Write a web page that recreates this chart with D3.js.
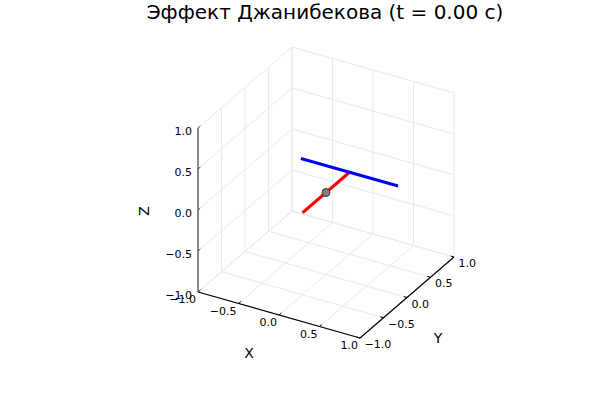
<!DOCTYPE html>
<html><head><meta charset="utf-8">
<script src="https://cdn.jsdelivr.net/npm/d3@7"></script>
<style>body{margin:0;background:#fff}svg{display:block;font-family:"DejaVu Sans",sans-serif}</style>
</head><body>
<svg id="c" width="600" height="400"></svg>
<script>
// ---- data ----
const title = "Эффект Джанибекова (t = 0.00 c)";
const xTicks = [-1, -0.5, 0, 0.5, 1];
const yTicks = [-1, -0.5, 0, 0.5, 1];
const zTicks = [-1, -0.5, 0, 0.5, 1];
const tickLabels = ["\u22121.0", "\u22120.5", "0.0", "0.5", "1.0"];
const redAxis = [[0, -0.5, 0], [0, 0.5, 0]];     // handle
const blueBar = [[-0.6, 0.5, 0], [0.6, 0.5, 0]];  // crossbar
const centre = [[0, 0, 0]];

// ---- projection (GR-like 3D view) ----
const sx = d3.scaleLinear().domain([-1, 1]).range([-1, 1]);
const sy = d3.scaleLinear().domain([-1, 1]).range([-1, 1]);
const sz = d3.scaleLinear().domain([-1, 1]).range([-1, 1]);
const cx = 326, cy = 192.5;
const ex = [81, 23], ey = [47, -40.5], ez = [0, -82];
function P(p) {
  const a = sx(p[0]), b = sy(p[1]), c = sz(p[2]);
  return [cx + ex[0]*a + ey[0]*b + ez[0]*c, cy + ex[1]*a + ey[1]*b + ez[1]*c];
}
const line = d3.line().x(d => P(d)[0]).y(d => P(d)[1]);
const svg = d3.select("#c");

// grid
const grid = [];
xTicks.forEach(v => { grid.push([[v,-1,-1],[v,1,-1]]); grid.push([[v,1,-1],[v,1,1]]); });
yTicks.forEach(v => { grid.push([[-1,v,-1],[1,v,-1]]); grid.push([[-1,v,-1],[-1,v,1]]); });
zTicks.forEach(v => { grid.push([[-1,-1,v],[-1,1,v]]); grid.push([[-1,1,v],[1,1,v]]); });
svg.append("g").selectAll("path").data(grid).join("path")
  .attr("d", line).attr("stroke", "#e9e9e9").attr("stroke-width", 1).attr("fill", "none");

// axes
const ax = svg.append("g").attr("fill", "none");
ax.append("path").attr("d", line([[-1,-1,-1],[1,-1,-1]])).attr("stroke", "#000").attr("stroke-width", 1.2);
ax.append("path").attr("d", line([[1,-1,-1],[1,1,-1]])).attr("stroke", "#000").attr("stroke-width", 1.2);
ax.append("path").attr("d", line([[-1,-1,-1],[-1,-1,1]])).attr("stroke", "#444").attr("stroke-width", 1.2);
// ticks
xTicks.forEach(v => ax.append("path").attr("d", line([[v,-1,-1],[v,-0.95,-1]])).attr("stroke", "#000"));
yTicks.forEach(v => ax.append("path").attr("d", line([[1,v,-1],[0.96,v,-1]])).attr("stroke", "#000"));
zTicks.forEach(v => ax.append("path").attr("d", line([[-1,-1,v],[-1,-0.95,v]])).attr("stroke", "#444"));

// tick labels
const tl = svg.append("g").attr("font-size", 11).attr("fill", "#000");
xTicks.forEach((v, i) => { const p = P([v,-1,-1]);
  tl.append("text").attr("x", p[0]-2).attr("y", p[1]+11).attr("text-anchor", "end").text(tickLabels[i]); });
yTicks.forEach((v, i) => { const p = P([1,v,-1]);
  tl.append("text").attr("x", p[0]+4.5).attr("y", p[1]+10).attr("text-anchor", "start").text(tickLabels[i]); });
zTicks.forEach((v, i) => { const p = P([-1,-1,v]);
  tl.append("text").attr("x", p[0]-6).attr("y", p[1]+6.5).attr("text-anchor", "end").text(tickLabels[i]); });

// axis titles
svg.append("text").attr("x", 249).attr("y", 358).attr("font-size", 14).attr("text-anchor", "middle").text("X");
svg.append("text").attr("x", 438).attr("y", 343).attr("font-size", 14).attr("text-anchor", "middle").text("Y");
svg.append("text").attr("transform", "translate(148.5,211) rotate(-90)").attr("font-size", 14).attr("text-anchor", "middle").text("Z");

// title
svg.append("text").attr("x", 325).attr("y", 19).attr("font-size", 20).attr("text-anchor", "middle").text(title);

// body
svg.append("path").attr("d", line(redAxis)).attr("stroke", "#ff0000").attr("stroke-width", 3).attr("fill", "none");
svg.append("path").attr("d", line(blueBar)).attr("stroke", "#0000ff").attr("stroke-width", 3).attr("fill", "none");
svg.selectAll("circle.c").data(centre).join("circle")
  .attr("cx", d => P(d)[0]).attr("cy", d => P(d)[1]).attr("r", 4)
  .attr("fill", "#808080").attr("stroke", "#333").attr("stroke-width", 1);
</script>
</body></html>
